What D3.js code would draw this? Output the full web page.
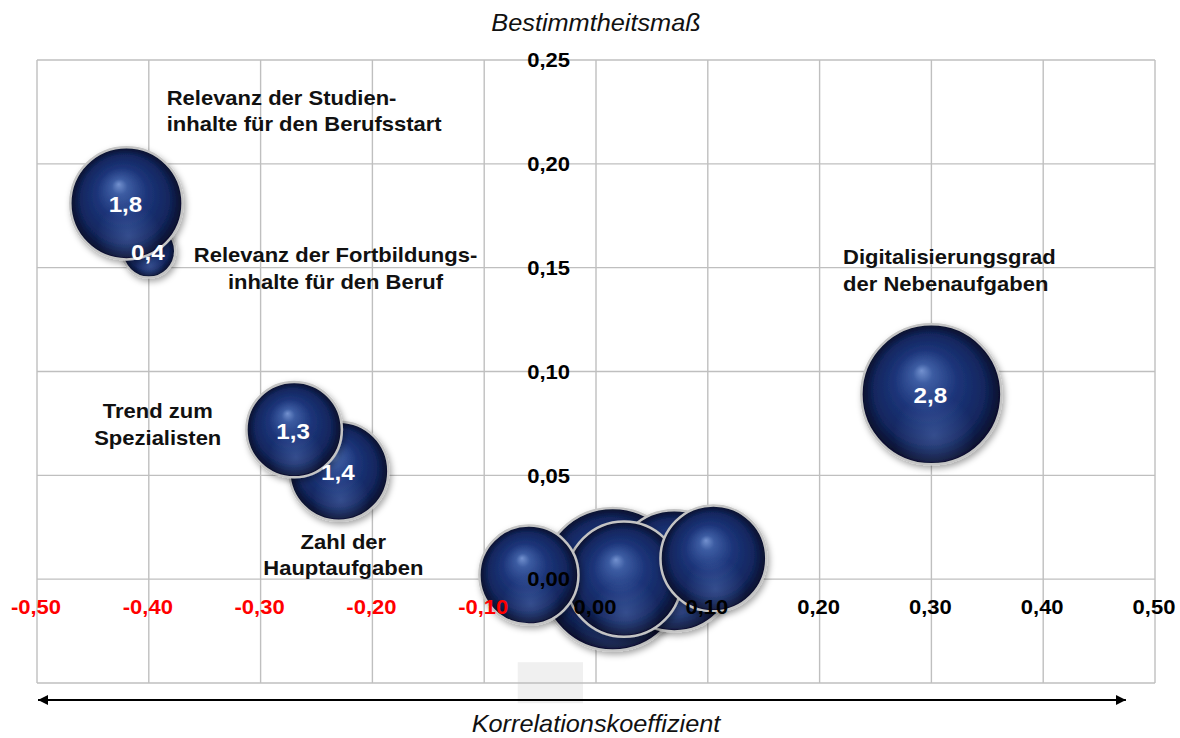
<!DOCTYPE html>
<html>
<head>
<meta charset="utf-8">
<script src="https://cdn.jsdelivr.net/npm/d3@7"></script>
<style>
  body { margin:0; background:#fff; }
  text { font-family: "Liberation Sans", Arial, sans-serif; }
</style>
</head>
<body>
<div class="canvas"></div>
<script>
/* Bubble chart: Korrelationskoeffizient vs. Bestimmtheitsmaß */

// data, in drawing order (back to front)
var correlation   = [-0.40, -0.42, -0.23, -0.27, 0.30, 0.015, 0.07, 0.025, 0.105, -0.06];
var determination = [0.158, 0.181, 0.052, 0.072, 0.089, 0.000, 0.004, 0.000, 0.010, 0.002];
var bubbleSize    = [0.4, 1.8, 1.4, 1.3, 2.8, 2.9, 2.1, 1.9, 1.6, 1.4];
var sizeLabels    = ["0,4", "1,8", "1,4", "1,3", "2,8", "", "", "", "", ""];

var xTicks = [-0.5, -0.4, -0.3, -0.2, -0.1, 0, 0.1, 0.2, 0.3, 0.4, 0.5];
var yTicks = [0, 0.05, 0.10, 0.15, 0.20, 0.25];
var yGrid  = [-0.05, 0, 0.05, 0.10, 0.15, 0.20, 0.25];

var noteLines = [
    ["Relevanz der Studien-", "inhalte für den Berufsstart"],
    ["Relevanz der Fortbildungs-", "inhalte für den Beruf"],
    ["Trend zum", "Spezialisten"],
    ["Zahl der", "Hauptaufgaben"],
    ["Digitalisierungsgrad", "der Nebenaufgaben"]
];
var noteX = [-0.384, -0.233, -0.392, -0.226, 0.221];
var noteY = [0.232, 0.156, 0.081, 0.018, 0.155];
var noteAnchor = ["start", "middle", "middle", "middle", "start"];

var xTitle = "Korrelationskoeffizient",
    yTitle = "Bestimmtheitsmaß";

/* set up the canvas */
var W = 1180, H = 738;
var margin = {t:60, r:25, b:55, l:37};
var width = W - margin.l - margin.r,
    height = H - margin.t - margin.b;

var svg = d3.select('.canvas')
    .append('svg')
    .attr('width', W)
    .attr('height', H);

var x = d3.scaleLinear().domain([-0.5, 0.5]).range([margin.l, margin.l + width]);
var y = d3.scaleLinear().domain([-0.05, 0.25]).range([margin.t + height, margin.t]);
var r = d3.scaleSqrt().domain([0, 2.8]).range([0, 70]);

var loc = d3.formatLocale({decimal:",", thousands:".", grouping:[3], currency:["","€"], minus:"-"});
var fmt = loc.format(".2f");

// stretch text a bit horizontally like the original
var SX = 1.1;
function stretch(sel, px, py){
    sel.attr('transform', function(d, i){
        return 'translate(' + px(d, i) + ',' + py(d, i) + ') scale(' + SX + ',1)';
    });
}

/* defs: gradient + shadow */
var defs = svg.append('defs');
var grad = defs.append('radialGradient')
    .attr('id', 'ball')
    .attr('cx', '50%').attr('cy', '50%').attr('r', '50%')
    .attr('fx', '43%').attr('fy', '33%');
grad.append('stop').attr('offset', '0%').attr('stop-color', '#7391cf');
grad.append('stop').attr('offset', '14%').attr('stop-color', '#3c5ca2');
grad.append('stop').attr('offset', '45%').attr('stop-color', '#1c3479');
grad.append('stop').attr('offset', '78%').attr('stop-color', '#13275f');
grad.append('stop').attr('offset', '100%').attr('stop-color', '#060d29');

var glow = defs.append('radialGradient')
    .attr('id', 'glow')
    .attr('cx', '52%').attr('cy', '80%').attr('r', '30%');
glow.append('stop').attr('offset', '0%').attr('stop-color', '#5a78bd').attr('stop-opacity', 0.45);
glow.append('stop').attr('offset', '100%').attr('stop-color', '#5a78bd').attr('stop-opacity', 0);

var shadow = defs.append('filter').attr('id', 'shadow')
    .attr('x', '-20%').attr('y', '-20%').attr('width', '150%').attr('height', '150%');
shadow.append('feDropShadow')
    .attr('dx', 2).attr('dy', 3).attr('stdDeviation', 3)
    .attr('flood-color', '#000').attr('flood-opacity', 0.35);

var arrowHead = function(id, orient){
    defs.append('marker')
        .attr('id', id)
        .attr('viewBox', '0 0 10 10')
        .attr('refX', 10).attr('refY', 5)
        .attr('markerWidth', 5).attr('markerHeight', 5)
        .attr('orient', orient)
        .append('path')
        .attr('d', 'M0,0 L10,5 L0,10 z')
        .attr('fill', '#000');
};
arrowHead('arrowEnd', 'auto');
arrowHead('arrowStart', 'auto-start-reverse');

/* faint box below the plot, as in the source picture */
svg.append('rect')
    .attr('x', x(-0.07)).attr('y', y(-0.04))
    .attr('width', x(0) - x(-0.07) - 13).attr('height', 41)
    .attr('fill', '#f0f0f0');

/* grid */
var grid = svg.append('g').attr('class', 'grid');
grid.selectAll('.vline')
    .data(xTicks)
    .enter()
    .append('line')
    .attr('x1', function(d){ return x(d); })
    .attr('x2', function(d){ return x(d); })
    .attr('y1', y(0.25))
    .attr('y2', y(-0.05));
grid.selectAll('.hline')
    .data(yGrid)
    .enter()
    .append('line')
    .attr('x1', x(-0.5))
    .attr('x2', x(0.5))
    .attr('y1', function(d){ return y(d); })
    .attr('y2', function(d){ return y(d); });
grid.selectAll('line')
    .style('stroke', '#bfbfbf')
    .style('stroke-width', 1.4);

/* bubbles */
var idx = d3.range(correlation.length);
var bub = svg.append('g').selectAll('.bubble')
    .data(idx)
    .enter()
    .append('g')
    .attr('class', 'bubble')
    .attr('transform', function(i){ return 'translate(' + x(correlation[i]) + ',' + y(determination[i]) + ')'; });

bub.append('circle')
    .attr('r', function(i){ return r(bubbleSize[i]); })
    .attr('fill', 'url(#ball)')
    .attr('stroke', '#c4c4c4')
    .attr('stroke-width', 2.5)
    .attr('filter', 'url(#shadow)');
bub.append('circle')
    .attr('r', function(i){ return r(bubbleSize[i]) - 2; })
    .attr('fill', 'url(#glow)');

/* bubble value labels */
var vl = svg.append('g').selectAll('.val')
    .data(idx.filter(function(i){ return sizeLabels[i] !== ""; }))
    .enter()
    .append('text')
    .attr('class', 'val')
    .attr('text-anchor', 'middle')
    .attr('dy', '0.36em')
    .style('font-size', '22px')
    .style('font-weight', 'bold')
    .style('fill', '#fff')
    .text(function(i){ return sizeLabels[i]; });
stretch(vl, function(i){ return x(correlation[i]) - 1; }, function(i){ return y(determination[i]) + 1; });

/* axis tick labels */
var xl = svg.append('g').selectAll('.xt')
    .data(xTicks)
    .enter()
    .append('text')
    .attr('text-anchor', 'middle')
    .attr('dy', '0.36em')
    .style('font-size', '20px')
    .style('font-weight', 'bold')
    .style('fill', function(d){ return d < 0 ? '#ff0000' : '#000'; })
    .text(function(d){ return fmt(d); });
stretch(xl, function(d){ return x(d) - 1; }, function(){ return y(0) + 28; });

var yl = svg.append('g').selectAll('.yt')
    .data(yTicks)
    .enter()
    .append('text')
    .attr('text-anchor', 'end')
    .attr('dy', '0.36em')
    .style('font-size', '20px')
    .style('font-weight', 'bold')
    .style('fill', '#000')
    .text(function(d){ return fmt(d); });
stretch(yl, function(){ return x(0) - 26; }, function(d){ return y(d); });

/* category notes */
var notes = svg.append('g').selectAll('.note')
    .data(d3.range(noteLines.length))
    .enter()
    .append('text')
    .attr('class', 'note')
    .attr('text-anchor', function(i){ return noteAnchor[i]; })
    .style('font-size', '20px')
    .style('font-weight', 'bold')
    .style('fill', '#111');
notes.selectAll('tspan')
    .data(function(i){ return noteLines[i]; })
    .enter()
    .append('tspan')
    .attr('x', 0)
    .attr('dy', function(d, j){ return j === 0 ? '0.36em' : '26.5px'; })
    .text(function(d){ return d; });
stretch(notes, function(i){ return x(noteX[i]); }, function(i){ return y(noteY[i]); });

/* x arrow */
svg.append('line')
    .attr('x1', x(-0.5) + 1).attr('x2', x(0.474))
    .attr('y1', 700).attr('y2', 700)
    .attr('stroke', '#000')
    .attr('stroke-width', 2)
    .attr('marker-start', 'url(#arrowStart)')
    .attr('marker-end', 'url(#arrowEnd)');

/* titles */
var tt = svg.append('g').selectAll('.title')
    .data([{t:xTitle, px:x(0), py:724}, {t:yTitle, px:x(0), py:23}])
    .enter()
    .append('text')
    .attr('text-anchor', 'middle')
    .attr('dy', '0.36em')
    .style('font-size', '23px')
    .style('font-style', 'italic')
    .style('fill', '#111')
    .text(function(d){ return d.t; });
stretch(tt, function(d){ return d.px; }, function(d){ return d.py; });
</script>
</body>
</html>
